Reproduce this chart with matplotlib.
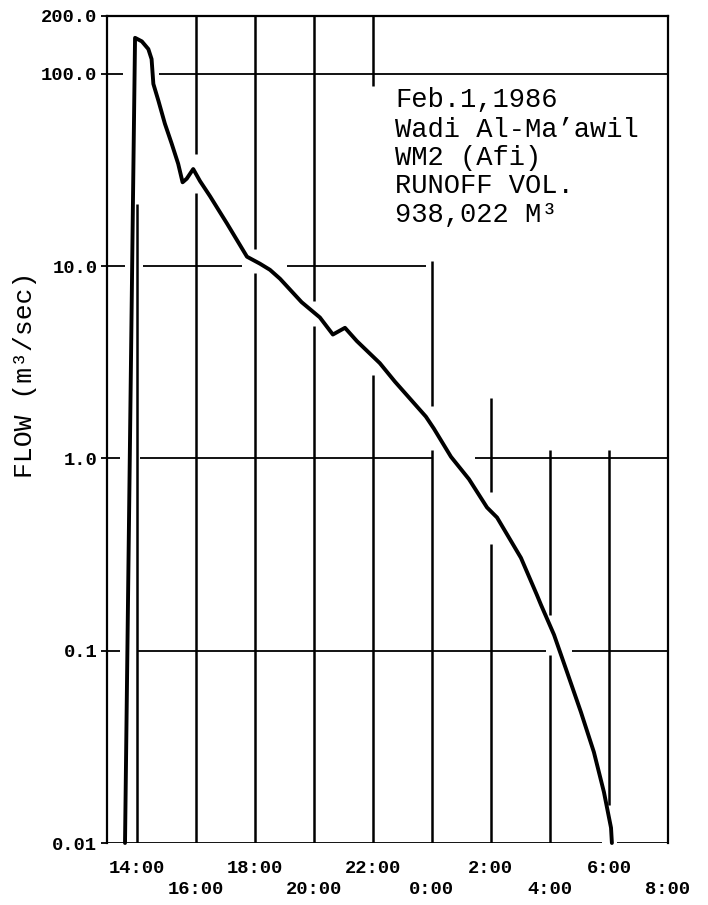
import matplotlib
matplotlib.use("Agg")
import matplotlib.pyplot as plt

# ---------------- data ----------------
# time in hours from midnight of Feb 1 (values > 24 belong to Feb 2)
hours = [13.61, 13.88, 13.95, 14.18, 14.40, 14.51, 14.57, 14.74, 14.96, 15.19,
         15.41, 15.56, 15.70, 15.92, 16.15, 16.49, 16.76, 17.06, 17.74, 18.18,
         18.52, 18.86, 19.59, 20.21, 20.65, 21.06, 21.46, 22.24, 22.75, 23.80,
         24.07, 24.65, 25.26, 25.87, 26.21, 27.02, 27.56, 27.70, 28.14, 28.58,
         29.05, 29.49, 29.83, 30.07, 30.10]
flow = [0.01, 22.2, 154.0, 147.6, 134.6, 119.4, 88.7, 72.6, 55.1, 43.4,
        34.1, 27.3, 28.5, 32.0, 27.7, 23.1, 19.8, 16.7, 11.2, 10.3,
        9.57, 8.6, 6.5, 5.41, 4.41, 4.78, 4.08, 3.13, 2.51, 1.65,
        1.43, 1.02, 0.78, 0.556, 0.493, 0.304, 0.195, 0.173, 0.121, 0.0775,
        0.048, 0.0297, 0.0184, 0.012, 0.0100]

x_ticks = [14, 16, 18, 20, 22, 24, 26, 28, 30, 32]
x_tick_labels = ["14:00", "16:00", "18:00", "20:00", "22:00",
                 "0:00", "2:00", "4:00", "6:00", "8:00"]
y_ticks = [0.01, 0.1, 1.0, 10.0, 100.0, 200.0]
y_tick_labels = ["0.01", "0.1", "1.0", "10.0", "100.0", "200.0"]

info_lines = ["Feb.1,1986", "Wadi Al-Ma\u2019awil", "WM2 (Afi)",
              "RUNOFF VOL.", "938,022 M\u00b3"]

# hand-drafted grid: pieces of lines (broken around curve and text)
vgrid_x =    [14,   16,   16,   18,   18,   20,  20,   22,  22,   24,   24,
              26,   26,    28,    28,    30]
vgrid_low =  [0.01, 38.3, 0.01, 12.3, 0.01, 6.6, 0.01, 86,  0.01, 1.87, 0.01,
              0.67, 0.01,  0.154, 0.01,  0.0157]
vgrid_high = [21,   200,  24.0, 200,  9.2,  200, 4.9,  200, 2.7,  10.6, 1.1,
              2.06, 0.358, 1.1,   0.095, 1.1]

hgrid_y =     [100,   100,   10,   10,    10,    1,     1,     1,
               0.1,   0.1,   0.1,   0.01,  0.01]
hgrid_start = [13.0,  14.76, 13.0, 14.22, 19.10, 13.0,  14.12, 25.46,
               13.0,  14.0,  28.75, 13.0,  30.27]
hgrid_end =   [13.54, 32.0,  13.6, 17.57, 23.80, 13.44, 24.0,  32.0,
               13.44, 27.87, 32.0,  29.76, 32.0]

# ---------------- figure ----------------
W, H = 708, 905
fig = plt.figure(figsize=(W / 100, H / 100), dpi=100)
ax = fig.add_axes([107 / W, 1 - 843 / H, (668 - 107) / W, (843 - 16) / H])
ax.set_yscale("log")
ax.set_xlim(13, 32)
ax.set_ylim(0.01, 200)

mono = "Liberation Mono"

ax.vlines(vgrid_x, vgrid_low, vgrid_high, colors="black", linewidth=1.8)
ax.hlines(hgrid_y, hgrid_start, hgrid_end, colors="black", linewidth=1.3)

ax.plot(hours, flow, color="black", linewidth=2.8, solid_joinstyle="round",
        solid_capstyle="round", clip_on=False)

for side in ("left", "top", "right"):
    ax.spines[side].set_linewidth(1.6)
ax.spines["bottom"].set_visible(False)

ax.set_yticks(y_ticks)
ax.set_yticklabels(y_tick_labels, fontfamily=mono, fontweight="bold", fontsize=13.5)
ax.yaxis.set_minor_locator(plt.NullLocator())
ax.tick_params(axis="y", which="major", length=4, width=1.3, pad=3)

ax.set_xticks(x_ticks)
ax.set_xticklabels(x_tick_labels, fontfamily=mono, fontweight="bold", fontsize=13.5)
ax.tick_params(axis="x", which="major", length=0)
for i, t in enumerate(ax.xaxis.get_major_ticks()):
    t.set_pad(12 if i % 2 == 0 else 27)

fig.text(25 / W, 1 - 375 / H, "FLOW (m\u00b3/sec)", rotation=90, ha="center",
         va="center", fontfamily=mono, fontsize=19)

baselines = [107, 137, 165, 193, 222]
for line, b in zip(info_lines, baselines):
    ax.text((395 - 107) / (668 - 107), (843 - b) / (843 - 16), line,
            transform=ax.transAxes, ha="left", va="baseline",
            fontfamily=mono, fontsize=19.5)

fig.savefig("out.png", dpi=100)
